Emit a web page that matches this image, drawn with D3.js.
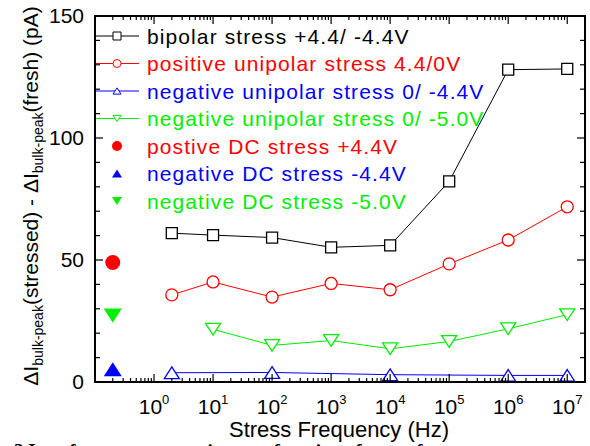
<!DOCTYPE html>
<html>
<head>
<meta charset="utf-8">
<script src="https://cdn.jsdelivr.net/npm/d3@7"></script>
<style>
body { margin: 0; background: #fff; }
text { font-family: "Liberation Sans", Arial, sans-serif; }
</style>
</head>
<body>
<svg id="chart" width="590" height="446"></svg>
<script>
// frequencies (Hz) and measured values (pA)
var bipolarX = [2, 10, 100, 1e3, 1e4, 1e5, 1e6, 1e7];
var bipolarY = [61, 60.2, 59.2, 55.2, 56, 82.2, 128, 128.3];
var posUniX = [2, 10, 100, 1e3, 1e4, 1e5, 1e6, 1e7];
var posUniY = [35.7, 41, 34.8, 40.4, 37.8, 48.4, 58.2, 71.8];
var negUni44X = [2, 100, 1e4, 1e6, 1e7];
var negUni44Y = [3.8, 3.9, 3.0, 2.7, 2.7];
var negUni50X = [10, 100, 1e3, 1e4, 1e5, 1e6, 1e7];
var negUni50Y = [21.6, 15, 17, 13.6, 16.6, 21.8, 27.6];
var dcX = 0.2;
var dcPosY = 49;
var dcNeg44Y = 5.2;
var dcNeg50Y = 27.2;

var legendLabels = [
	'bipolar stress +4.4/ -4.4V',
	'positive unipolar stress 4.4/0V',
	'negative unipolar stress 0/ -4.4V',
	'negative unipolar stress 0/ -5.0V',
	'postive DC stress +4.4V',
	'negative DC stress -4.4V',
	'negative DC stress -5.0V'
];
var legendColors = ['#000', '#ff0000', '#0000ff', '#00ee00', '#ff0000', '#0000ff', '#00ee00'];
var legendShapes = ['square', 'circle', 'up', 'down', 'circle', 'up', 'down'];
var legendFilled = [false, false, false, false, true, true, true];

var yTicks = [0, 50, 100, 150];
var xTicks = [1, 10, 100, 1e3, 1e4, 1e5, 1e6, 1e7];

var svg = d3.select('#chart');
var pl = 95, pr = 585, pt = 16, pb = 382;

var x = d3.scaleLog().domain([0.1, 2e7]).range([pl, pr]);
var y = d3.scaleLinear().domain([0, 150]).range([pb, pt]);

// marker path, centred on its bounding box
function shape(kind, s) {
	var h = s / 2;
	if (kind == 'square') return 'M' + (-h) + ',' + (-h) + 'h' + s + 'v' + s + 'h' + (-s) + 'Z';
	if (kind == 'circle') return d3.arc()({innerRadius: 0, outerRadius: h, startAngle: 0, endAngle: 2 * Math.PI});
	var th = s * 0.78 / 2;
	if (kind == 'up') return 'M0,' + (-th) + 'L' + h + ',' + th + 'L' + (-h) + ',' + th + 'Z';
	return 'M0,' + th + 'L' + h + ',' + (-th) + 'L' + (-h) + ',' + (-th) + 'Z';
}

var series = [
	{xs: bipolarX, ys: bipolarY, c: legendColors[0], kind: 'square', size: 11},
	{xs: posUniX, ys: posUniY, c: legendColors[1], kind: 'circle', size: 12},
	{xs: negUni44X, ys: negUni44Y, c: legendColors[2], kind: 'up', size: 15},
	{xs: negUni50X, ys: negUni50Y, c: legendColors[3], kind: 'down', size: 15}
];

var line = d3.line().x(function(d){return x(d[0]);}).y(function(d){return y(d[1]);});

series.forEach(function(s) {
	var pts = s.xs.map(function(v, i){return [v, s.ys[i]];});
	svg.append('path')
		.attr('d', line(pts))
		.attr('fill', 'none')
		.attr('stroke', s.c)
		.attr('stroke-width', 1);
	svg.selectAll(null).data(pts).enter().append('path')
		.attr('d', shape(s.kind, s.size))
		.attr('transform', function(d){return 'translate(' + x(d[0]) + ',' + y(d[1]) + ')';})
		.attr('fill', '#fff')
		.attr('stroke', s.c)
		.attr('stroke-width', 1.3);
});

// DC points
var dcPts = [
	{v: dcPosY, c: legendColors[4], kind: 'circle', size: 15},
	{v: dcNeg44Y, c: legendColors[5], kind: 'up', size: 18},
	{v: dcNeg50Y, c: legendColors[6], kind: 'down', size: 18}
];
svg.selectAll(null).data(dcPts).enter().append('path')
	.attr('d', function(d){return shape(d.kind, d.size);})
	.attr('transform', function(d){return 'translate(' + x(dcX) + ',' + y(d.v) + ')';})
	.attr('fill', function(d){return d.c;});

// frame
svg.append('rect')
	.attr('x', pl).attr('y', pt)
	.attr('width', pr - pl).attr('height', pb - pt)
	.attr('fill', 'none').attr('stroke', '#000').attr('stroke-width', 2);

// y ticks both sides, inward
var yAll = d3.range(0, 151, 10);
yAll.forEach(function(v) {
	var len = (v % 50 == 0) ? 8 : 5;
	svg.append('line').attr('x1', pl).attr('x2', pl + len)
		.attr('y1', y(v)).attr('y2', y(v)).attr('stroke', '#000').attr('stroke-width', 1.2);
	svg.append('line').attr('x1', pr).attr('x2', pr - len)
		.attr('y1', y(v)).attr('y2', y(v)).attr('stroke', '#000').attr('stroke-width', 1.2);
});
svg.selectAll(null).data(yTicks).enter().append('text')
	.attr('x', pl - 11)
	.attr('y', function(d){return y(d) + 7;})
	.attr('text-anchor', 'end')
	.style('font-size', '21px')
	.text(function(d){return d;});

// x ticks both sides, inward
var xMinor = [];
for (var e = -1; e <= 7; e++)
	for (var m = 1; m <= 9; m++) {
		var v = m * Math.pow(10, e);
		if (v >= 0.1 && v <= 2e7) xMinor.push({v: v, major: m == 1});
	}
xMinor.forEach(function(d) {
	var len = d.major ? 8 : 4;
	svg.append('line').attr('x1', x(d.v)).attr('x2', x(d.v))
		.attr('y1', pb).attr('y2', pb - len).attr('stroke', '#000').attr('stroke-width', 1.2);
	svg.append('line').attr('x1', x(d.v)).attr('x2', x(d.v))
		.attr('y1', pt).attr('y2', pt + len).attr('stroke', '#000').attr('stroke-width', 1.2);
});
var xl = svg.selectAll(null).data(xTicks).enter().append('text')
	.attr('x', function(d){return x(d);})
	.attr('y', 414)
	.attr('text-anchor', 'middle')
	.style('font-size', '21px');
xl.append('tspan').text('10');
xl.append('tspan').attr('dy', -10).style('font-size', '13px')
	.text(function(d){return Math.round(Math.log10(d));});

// axis titles
svg.append('text')
	.attr('x', 339).attr('y', 437)
	.attr('text-anchor', 'middle')
	.style('font-size', '22px')
	.text('Stress Frequency (Hz)');

var yt = svg.append('text')
	.attr('transform', 'translate(38,196) rotate(-90)')
	.attr('text-anchor', 'middle')
	.style('font-size', '21px');
yt.append('tspan').text('\u0394I');
yt.append('tspan').attr('dy', 5).style('font-size', '14px').text('bulk-peak');
yt.append('tspan').attr('dy', -5).text('(stressed) - \u0394I');
yt.append('tspan').attr('dy', 5).style('font-size', '14px').text('bulk-peak');
yt.append('tspan').attr('dy', -5).text('(fresh)  (pA)');

// legend
var lg = svg.append('g');
legendLabels.forEach(function(t, i) {
	var ly = 36 + i * 27.5;
	if (!legendFilled[i])
		lg.append('line').attr('x1', 96).attr('x2', 139).attr('y1', ly).attr('y2', ly)
			.attr('stroke', legendColors[i]).attr('stroke-width', 1);
	var sz = legendFilled[i] ? 10 : 8;
	lg.append('path')
		.attr('d', shape(legendShapes[i], sz))
		.attr('transform', 'translate(117,' + ly + ')')
		.attr('fill', legendFilled[i] ? legendColors[i] : '#fff')
		.attr('stroke', legendFilled[i] ? 'none' : legendColors[i])
		.attr('stroke-width', 1);
	lg.append('text')
		.attr('x', 147).attr('y', ly + 7.5)
		.attr('fill', legendColors[i])
		.style('font-size', '21px')
		.style('letter-spacing', '1.1px')
		.text(t);
});

// clipped figure caption below
svg.append('text')
	.attr('x', -22).attr('y', 457)
	.style('font-family', '"Liberation Serif", serif')
	.style('font-weight', 'bold')
	.style('font-size', '19px')
	.text('Fig. 3 Interface trap generation as a function of stress frequency');
</script>
</body>
</html>
